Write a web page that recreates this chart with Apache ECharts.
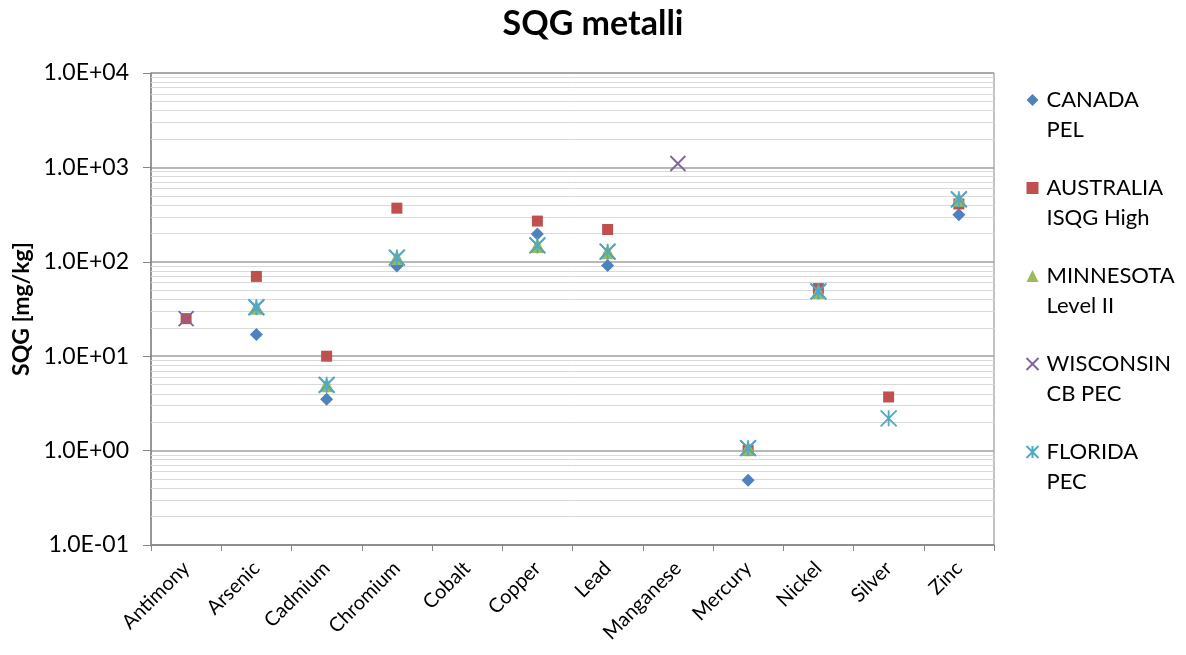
<!DOCTYPE html>
<html>
<head>
<meta charset="utf-8">
<script src="https://cdn.jsdelivr.net/npm/echarts@6/dist/echarts.min.js"></script>
<style>
  html, body { margin: 0; padding: 0; background: #fff; }
  #chart { width: 1186px; height: 655px; }
</style>
</head>
<body>
<div id="chart"></div>
<script>
// categories and values (mg/kg)
const metals = ['Antimony', 'Arsenic', 'Cadmium', 'Chromium', 'Cobalt', 'Copper', 'Lead', 'Manganese', 'Mercury', 'Nickel', 'Silver', 'Zinc']
const canadaPel = [null, 17, 3.5, 90, null, 197, 91.3, null, 0.486, null, null, 315]
const australiaHigh = [25, 70, 10, 370, null, 270, 220, null, 1.0, 52, 3.7, 410]
const minnesotaL2 = [null, 33, 4.98, 111, null, 149, 128, null, 1.06, 48.6, null, 459]
const wisconsinPec = [25, 33, 4.98, 111, null, 149, 128, 1100, 1.06, 48.6, null, 459]
const floridaPec = [null, 33, 4.98, 111, null, 149, 128, null, 1.06, 48.6, 2.2, 459]

const seriesNames = ['CANADA\nPEL', 'AUSTRALIA\nISQG High', 'MINNESOTA\nLevel II', 'WISCONSIN\nCB PEC', 'FLORIDA\nPEC']

// minor log gridlines 2..9 x 10^k
const minorLines = []
for (let k = -1; k <= 3; k++) {
  for (let m = 2; m <= 9; m++) {
    minorLines.push({yAxis: Number((m * Math.pow(10, k)).toPrecision(2))})
  }
}

const fmtExp = v => {
  const e = Math.round(Math.log10(v))
  const s = e < 0 ? '-' : '+'
  const a = Math.abs(e)
  return '1.0E' + s + (a < 10 ? '0' + a : a)
}

const FONT = 'Lato, "Open Sans", sans-serif'
const X_PATH = 'path://M0,0L10,10M10,0L0,10'
const STAR_PATH = 'path://M0,0L10,10M10,0L0,10M5,0L5,10'

const chart = echarts.init(document.getElementById('chart'))
chart.setOption({
  animation: false,
  textStyle: {fontFamily: FONT},
  title: {
    text: 'SQG metalli',
    left: 'center',
    top: 2,
    textStyle: {fontFamily: FONT, fontSize: 34, fontWeight: 'bold', color: '#000'}
  },
  grid: {left: 151, right: 192, top: 73, bottom: 110, show: true, borderColor: '#868686', borderWidth: 1},
  legend: {
    orient: 'vertical',
    left: 1024,
    top: 55,
    padding: 0,
    itemGap: -2,
    itemWidth: 12,
    itemHeight: 12,
    data: seriesNames,
    // blank first line so the icon sits next to the first text line
    formatter: name => ' \n' + name,
    textStyle: {fontFamily: FONT, fontSize: 22, lineHeight: 30, color: '#000', padding: [0, 0, 0, 3]}
  },
  xAxis: {
    type: 'category',
    data: metals,
    boundaryGap: true,
    axisLine: {lineStyle: {color: '#868686', width: 1.5}},
    axisTick: {show: true, length: 6, lineStyle: {color: '#868686'}},
    axisLabel: {rotate: 45, margin: 20, fontSize: 20, color: '#000', fontFamily: FONT}
  },
  yAxis: {
    type: 'log',
    logBase: 10,
    min: 0.1,
    max: 10000,
    name: 'SQG [mg/kg]',
    nameLocation: 'middle',
    nameRotate: 90,
    nameGap: 116,
    nameTextStyle: {fontFamily: FONT, fontSize: 23, fontWeight: 'bold', color: '#000'},
    axisLine: {show: true, lineStyle: {color: '#868686', width: 1.5}},
    axisTick: {show: true, length: 8, lineStyle: {color: '#868686'}},
    axisLabel: {formatter: fmtExp, margin: 22, fontSize: 23, color: '#000', fontFamily: FONT},
    splitLine: {show: true, lineStyle: {color: '#a0a0a0', width: 1.5}}
  },
  series: [
    {
      name: seriesNames[0], type: 'scatter', data: canadaPel,
      symbol: 'diamond', symbolSize: 13,
      itemStyle: {color: '#4F81BD', opacity: 1}
    },
    {
      name: seriesNames[1], type: 'scatter', data: australiaHigh,
      symbol: 'rect', symbolSize: 11,
      itemStyle: {color: '#C0504D', opacity: 1}
    },
    {
      name: seriesNames[2], type: 'scatter', data: minnesotaL2,
      symbol: 'triangle', symbolSize: 15,
      itemStyle: {color: '#9BBB59', opacity: 1}
    },
    {
      name: seriesNames[3], type: 'scatter', data: wisconsinPec,
      symbol: X_PATH, symbolSize: 15,
      itemStyle: {color: 'none', borderColor: '#8064A2', borderWidth: 1.8, opacity: 1}
    },
    {
      name: seriesNames[4], type: 'scatter', data: floridaPec,
      symbol: STAR_PATH, symbolSize: 16,
      itemStyle: {color: 'none', borderColor: '#4BACC6', borderWidth: 1.8, opacity: 1}
    },
    {
      // minor gridlines only
      name: 'minor', type: 'scatter', data: [], silent: true,
      markLine: {
        silent: true, z: 1, symbol: ['none', 'none'], animation: false,
        label: {show: false},
        lineStyle: {color: '#d9d9d9', type: 'solid', width: 1},
        emphasis: {disabled: true},
        data: minorLines
      }
    }
  ]
})
</script>
</body>
</html>
